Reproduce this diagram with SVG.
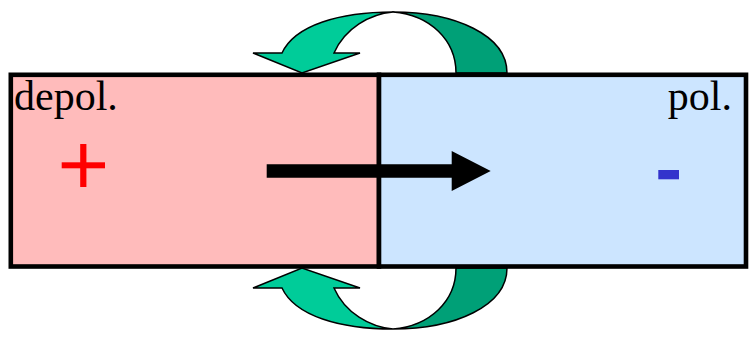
<svg xmlns="http://www.w3.org/2000/svg" width="750" height="340" viewBox="0 0 750 340">
<defs>
<style>
.light{fill:#00CC99;stroke:#000;stroke-width:1.5;stroke-linejoin:miter}
.dark{fill:#00A077;stroke:#000;stroke-width:1.5}
.box{stroke:#000;stroke-width:4.6}
.lbl{font-family:"Liberation Serif","Times New Roman",serif;font-size:42px;fill:#000}
</style>
<g id="curl">
<path class="dark" d="M393,12 C455,12 507,35 507,73 L456,73 C456,40 430,15 393,12 Z"/>
<path class="light" d="M393,12 C340,12 295,25 282,53 L253,53 L302,73 L360,53 L334,53 C345,28 370,14 393,12 Z"/>
</g>
</defs>
<rect x="0" y="0" width="750" height="340" fill="#fff"/>
<g id="connectors">
<use id="top-curl" href="#curl"/>
<use id="bottom-curl" href="#curl" transform="matrix(1,0,0,-1,0,341)"/>
</g>
<g id="depol">
<rect class="box" x="10.8" y="74.8" width="368.2" height="191.7" fill="#FFBBBB"/>
<text class="lbl" x="14" y="110">depol.</text>
<rect x="61.7" y="162.3" width="43.3" height="6" fill="#FF0000"/>
<rect x="80.2" y="144" width="6.2" height="43" fill="#FF0000"/>
</g>
<g id="pol">
<rect class="box" x="379" y="74.8" width="367" height="191.7" fill="#CCE5FF"/>
<text class="lbl" x="732" y="110" text-anchor="end">pol.</text>
<rect x="658.3" y="170" width="20.7" height="9.3" fill="#3333CC"/>
</g>
<g id="propagation">
<path d="M266.7,164.3 H451.7 V151 L490.7,171 L451.7,191 V177.7 H266.7 Z" fill="#000"/>
</g>
</svg>
